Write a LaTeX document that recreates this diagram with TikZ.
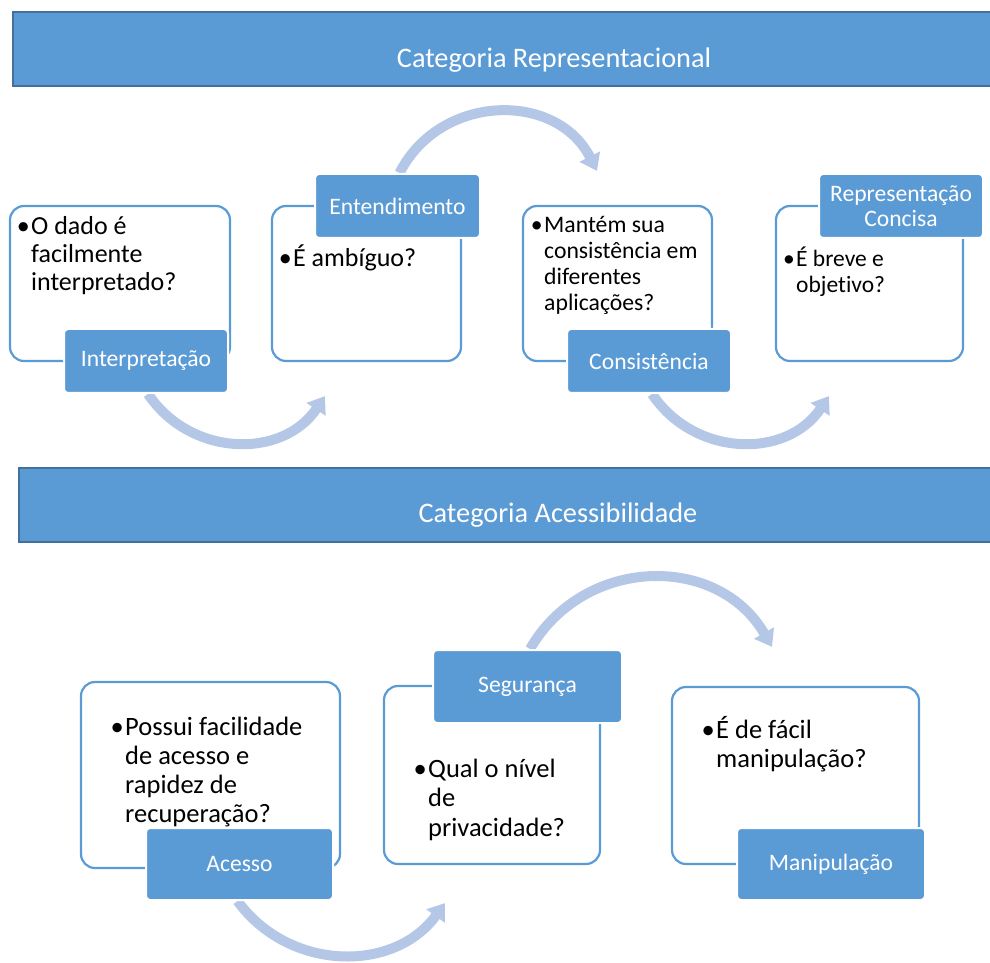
\documentclass[tikz,border=0pt]{standalone}
\usepackage{fontspec}
\setmainfont{Carlito}[Ligatures=NoCommon]
\usetikzlibrary{arrows.meta}
\definecolor{boxblue}{HTML}{5B9BD5}
\definecolor{edgeblue}{HTML}{41719C}
\definecolor{arrowblue}{HTML}{B4C7E7}
\pgfdeclarelayer{background}
\pgfsetlayers{background,main}
% question text: size, line spacing, lines
\newcommand\qlines[3]{\parbox[t]{240pt}{\fontsize{#1}{#2}\selectfont\raggedright #3}}
\newcommand\bul{\leavevmode\llap{\textbullet\hspace{1.5pt}}}
\begin{document}
\begin{tikzpicture}[x=1pt,y=1pt,
  band/.style={fill=boxblue, draw=edgeblue, line width=2.5pt},
  bandtxt/.style={anchor=base, text=white, font=\fontsize{28.3}{30}\selectfont, inner sep=0},
  qbox/.style={draw=boxblue, line width=2.2pt, rounded corners=14pt, fill=white},
  lbl/.style={fill=boxblue, draw=white, line width=2pt, rounded corners=4pt, text=white,
    font=\fontsize{23.6}{25}\selectfont, align=center, inner sep=0},
  toplbl/.style={lbl, minimum width=164pt, minimum height=64pt},
  botlbl/.style={lbl, minimum height=72pt},
  qtxt/.style={anchor=base west, inner sep=0},
  flow/.style={draw=arrowblue, line width=10pt, -{Triangle[width=22pt,length=16pt]}}]
\useasboundingbox (0,0) rectangle (990,962);
\clip (0,0) rectangle (990,962);

% category bands
\draw[band] (13,876) rectangle (1095,950);
\node[bandtxt] (h1) at (554,894) {Categoria Representacional};
\draw[band] (19,420) rectangle (1097,494);
\node[bandtxt] (h2) at (558,439) {Categoria Acessibilidade};

% representational dimensions
\node[qbox, minimum width=220pt, minimum height=155pt] (b1) at (120,678.5) {};
\node[qtxt] (q1) at (31,727) {\qlines{26}{28}{\bul O dado é\\facilmente\\interpretado?}};
\node[toplbl] (interp) at (146,601) {Interpretação};

\node[qbox, minimum width=189pt, minimum height=155pt] (b2) at (366.5,678.5) {};
\node[qtxt] (q2) at (293,695) {\qlines{26}{28}{\bul É ambíguo?}};
\node[toplbl, minimum width=165pt] (ent) at (397.5,756) {Entendimento};

\node[qbox, minimum width=189pt, minimum height=155pt] (b3) at (617.5,678.5) {};
\node[qtxt] (q3) at (544,729) {\qlines{23.7}{26}{\bul Mantém sua\\consistência em\\diferentes\\aplicações?}};
\node[toplbl] (cons) at (649,601) {Consistência};

\node[qbox, minimum width=187pt, minimum height=155pt] (b4) at (869.5,678.5) {};
\node[qtxt] (q4) at (796,695) {\qlines{23.5}{26}{\bul É breve e\\objetivo?}};
\node[toplbl] (rc) at (901,756) {Representação\\Concisa};

% accessibility dimensions
\node[qbox, minimum width=259pt, minimum height=186pt] (ba) at (210.5,187) {};
\node[qtxt] (qa) at (125,227) {\qlines{26.5}{29}{\bul Possui facilidade\\de acesso e\\rapidez de\\recuperação?}};
\node[botlbl, minimum width=187pt] (acc) at (239.5,98) {Acesso};

\node[qbox, minimum width=216pt, minimum height=178pt] (bs) at (492,187) {};
\node[qtxt] (qs) at (428,185) {\qlines{26.5}{29.5}{\bul Qual o nível\\de\\privacidade?}};
\node[botlbl, minimum width=189pt, minimum height=73pt] (seg) at (527.5,275.5) {Segurança};

\node[qbox, minimum width=247pt, minimum height=177pt] (bm) at (795.5,186.5) {};
\node[qtxt] (qm) at (716,224) {\qlines{26.5}{29}{\bul É de fácil\\manipulação?}};
\node[botlbl, minimum width=188pt] (man) at (831,98) {Manipulação};

% curved flow arrows
\begin{pgfonlayer}{background}
\draw[flow] ([xshift=2]ent.north) to[out=63,in=117,looseness=1.16] ([xshift=-20.5,yshift=34]b3.north);
\draw[flow] ([xshift=2]interp.south) to[out=-56,in=-124,looseness=1.1] ([xshift=-41.5,yshift=-34]b2.south);
\draw[flow] ([xshift=3]cons.south) to[out=-56,in=-124,looseness=1.1] ([xshift=-40.5,yshift=-34]b4.south);
\draw[flow] ([xshift=2.5]seg.north) to[out=60,in=120,looseness=1.14] ([xshift=-23.5,yshift=39]bm.north);
\draw[flow] ([xshift=-2]acc.south) to[out=-54,in=-126,looseness=1.07] ([xshift=-47,yshift=-38]bs.south);
\end{pgfonlayer}
\end{tikzpicture}
\end{document}
